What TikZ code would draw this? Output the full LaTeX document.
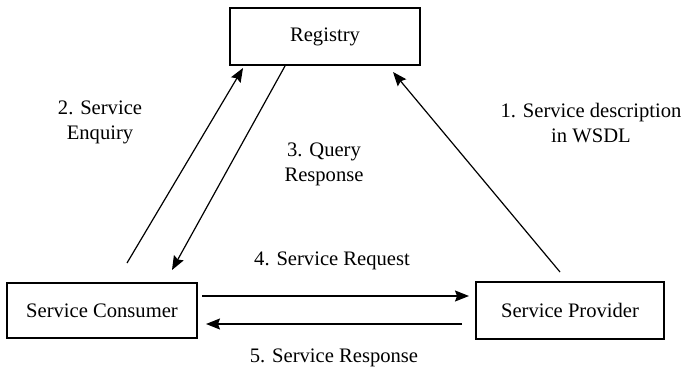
\documentclass[tikz,border=0pt]{standalone}
\usepackage{fontspec}
\setmainfont{Liberation Serif}
\usetikzlibrary{arrows.meta}
\begin{document}
\begin{tikzpicture}[x=1pt,y=-1pt,
  box/.style={draw,line width=1.3pt,inner sep=0pt,font=\fontsize{20.6}{25}\selectfont},
  lbl/.style={align=center,inner sep=0pt,font=\fontsize{20.6}{25}\selectfont},
  flow/.style={line width=1.2pt,-{Stealth[length=14pt,width=11pt,inset=2pt]}}]
\useasboundingbox (0,0) rectangle (684,372);

% the three parties
\node[box,minimum width=190pt,minimum height=57pt] (reg) at (325,36.5) {Registry};
\node[box,minimum width=190pt,minimum height=55pt] (con) at (102,310.5) {Service Consumer};
\node[box,minimum width=188pt,minimum height=57pt] (pro) at (570,310.5) {Service Provider};

% arrow end points
\coordinate (p1s) at (560,272);
\coordinate (p1e) at (393,72);
\coordinate (p2s) at (127,263);
\coordinate (p2e) at (243,68);
\coordinate (p3s) at (285,66);
\coordinate (p3e) at (172,270);
\coordinate (p4s) at (202,296);
\coordinate (p4e) at (469,296);
\coordinate (p5s) at (462,324);
\coordinate (p5e) at (206,324);

\draw[flow] (p1s) -- (p1e);
\draw[flow] (p2s) -- (p2e);
\draw[flow] (p3s) -- (p3e);
\draw[flow] (p4s) -- (p4e);
\draw[flow] (p5s) -- (p5e);

% message labels
\node[lbl] (l1) at (591,123.5) {1. Service description\\in WSDL};
\node[lbl] (l2) at (100,122.5) {2. Service\\Enquiry};
\node[lbl] (l3) at (324,164.5) {3. Query\\Response};
\node[lbl] (l4) at (332,261) {4. Service Request};
\node[lbl] (l5) at (334,358) {5. Service Response};
\end{tikzpicture}
\end{document}
